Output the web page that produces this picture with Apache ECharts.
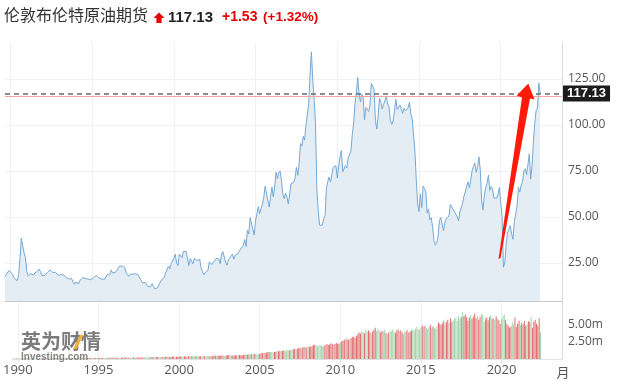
<!DOCTYPE html>
<html><head><meta charset="utf-8">
<script src="https://cdn.jsdelivr.net/npm/echarts@6/dist/echarts.min.js"></script>
<style>html,body{margin:0;padding:0;background:#fff}#c{width:618px;height:385px}</style>
</head><body><div id="c"></div>
<script>
// ---- data (monthly, Sep 1989 .. Jun 2022) ----
const startYear = 1989, startMonth = 9;
const padMonths = 16; // empty months to the right of the last point
const prices = [
 17.6,18.9,19.2,21.0,
 20.2,19.3,18.2,16.6,16.2,15.4,18.6,27.3,38.6,34.3,30.5,27.9,
 20.5,18.0,19.0,19.3,19.0,18.4,19.6,19.8,20.6,21.7,20.4,18.2,
 18.5,18.2,18.0,19.7,20.5,21.2,20.2,19.9,20.3,19.9,19.0,18.4,
 17.6,18.6,18.7,18.6,18.2,17.0,16.2,16.4,15.9,16.4,14.6,13.4,
 14.6,13.8,13.7,15.4,16.2,17.1,17.8,16.6,15.9,16.3,17.0,15.9,
 16.2,16.9,16.9,18.4,17.6,16.9,15.9,16.3,16.5,16.1,16.9,18.6,
 17.9,19.0,21.2,19.6,18.9,19.9,20.2,21.9,23.3,23.0,23.4,23.1,
 22.5,19.5,20.0,17.8,19.0,18.2,19.0,19.2,19.1,20.0,18.4,16.9,
 15.5,14.1,13.7,14.4,14.4,12.1,12.0,12.2,13.8,12.3,10.9,10.0,
 11.5,10.5,14.6,16.0,15.4,17.1,19.8,20.5,23.3,21.8,24.6,25.6,
 27.6,29.8,24.9,23.6,29.8,30.7,27.9,31.3,30.6,31.2,30.5,23.6,
 27.5,27.0,24.6,27.4,28.0,26.4,25.9,27.0,22.3,20.4,18.7,19.8,
 19.4,21.0,25.6,25.7,24.2,25.3,25.4,27.5,28.4,27.2,24.6,29.9,
 31.2,31.6,25.4,23.8,26.7,27.6,28.6,29.9,27.1,29.2,29.6,30.1,
 30.9,32.6,32.0,34.5,37.8,34.0,42.9,40.7,49.6,48.6,43.5,40.2,
 48.2,51.8,55.7,51.9,51.9,57.0,60.6,66.7,62.9,59.2,55.4,61.0,
 66.3,61.0,66.3,74.4,70.9,73.9,75.0,70.0,62.5,60.0,62.9,61.0,
 57.1,62.0,68.1,67.4,68.8,71.4,77.0,72.7,79.2,90.0,88.6,93.9,
 91.8,100.1,100.3,111.4,127.8,139.8,124.1,114.1,100.6,65.3,53.5,45.6,
 45.9,45.6,49.2,50.6,65.4,69.3,71.7,69.0,69.1,77.0,77.8,77.9,
 71.2,77.6,82.7,86.2,74.6,75.0,78.0,76.7,82.3,83.2,85.9,94.8,
 101.0,111.8,117.4,125.9,116.7,112.5,116.7,114.9,102.8,109.6,110.5,107.4,
 110.9,122.7,122.9,119.5,102.4,97.8,104.9,114.6,112.4,108.7,111.2,111.1,
 115.6,111.4,110.0,102.4,100.4,102.2,107.7,114.0,108.4,108.8,110.9,110.8,
 106.4,109.1,107.8,108.1,109.4,112.4,106.0,103.2,94.7,85.9,70.2,57.3,
 53.0,62.6,55.1,66.8,65.6,63.6,52.2,54.2,48.4,49.6,44.6,37.3,
 34.7,36.0,39.6,48.1,49.7,49.7,42.5,47.0,49.1,48.3,50.5,56.8,
 55.7,55.6,52.8,51.7,50.3,47.9,52.7,52.4,57.5,61.4,63.6,66.9,
 69.1,65.8,70.3,75.2,77.6,79.4,74.3,77.4,82.7,75.5,58.7,53.8,
 61.9,66.0,68.4,72.8,64.5,66.6,65.2,60.4,60.8,60.2,62.4,66.0,
 58.2,50.5,22.7,25.3,35.3,41.2,43.3,45.3,40.9,37.9,47.6,51.8,
 55.9,66.1,63.5,67.3,69.3,75.1,76.3,73.0,78.5,84.4,70.6,77.8,
 91.2,101.0,107.9,109.3,122.8,117.13
];
// monthly volume, millions of contracts
const volumes = [
 0.05,0.05,0.06,0.06,
 0.07,0.06,0.06,0.07,0.06,0.07,0.08,0.12,0.14,0.12,0.10,0.08,
 0.08,0.09,0.08,0.08,0.08,0.09,0.09,0.09,0.10,0.10,0.09,0.09,
 0.09,0.09,0.10,0.10,0.10,0.10,0.10,0.10,0.11,0.10,0.10,0.10,
 0.10,0.11,0.11,0.11,0.11,0.12,0.12,0.12,0.12,0.12,0.13,0.13,
 0.13,0.13,0.13,0.14,0.14,0.14,0.14,0.14,0.14,0.14,0.15,0.15,
 0.15,0.15,0.15,0.16,0.16,0.16,0.16,0.17,0.17,0.17,0.18,0.18,
 0.18,0.19,0.20,0.20,0.19,0.20,0.20,0.21,0.22,0.22,0.21,0.21,
 0.22,0.22,0.22,0.23,0.22,0.23,0.23,0.24,0.24,0.25,0.24,0.25,
 0.26,0.27,0.28,0.27,0.27,0.28,0.28,0.29,0.30,0.30,0.30,0.31,
 0.31,0.32,0.34,0.33,0.33,0.34,0.34,0.35,0.36,0.35,0.35,0.34,
 0.36,0.38,0.40,0.37,0.38,0.39,0.37,0.40,0.41,0.40,0.38,0.39,
 0.40,0.39,0.41,0.40,0.42,0.41,0.40,0.42,0.45,0.43,0.42,0.41,
 0.43,0.45,0.50,0.47,0.46,0.48,0.47,0.50,0.52,0.49,0.48,0.52,
 0.55,0.58,0.56,0.50,0.52,0.51,0.53,0.55,0.56,0.58,0.55,0.57,
 0.60,0.62,0.65,0.63,0.70,0.66,0.68,0.72,0.75,0.78,0.72,0.70,
 0.78,0.85,0.90,0.92,0.88,0.95,0.98,1.05,1.00,1.02,0.98,1.05,
 1.10,1.12,1.15,1.20,1.18,1.22,1.25,1.20,1.28,1.30,1.26,1.32,
 1.40,1.45,1.50,1.48,1.55,1.60,1.65,1.58,1.70,1.80,1.75,1.68,
 1.78,1.85,1.80,1.90,2.05,2.10,2.00,1.85,1.95,2.05,1.90,1.95,
 2.00,2.10,2.20,2.05,2.15,2.30,2.25,2.10,2.20,2.35,2.25,2.30,
 2.45,2.60,2.70,2.85,3.05,2.90,2.80,2.95,3.10,3.20,3.30,3.15,
 3.40,3.65,3.90,3.75,4.10,3.95,3.80,4.40,4.05,4.20,3.90,3.70,
 4.00,4.30,4.60,4.10,4.45,4.20,3.95,4.15,4.05,4.30,3.85,3.60,
 3.90,4.20,4.05,4.40,4.10,3.85,4.20,4.35,4.10,4.25,3.95,3.70,
 3.95,4.10,4.30,3.90,4.05,4.20,4.40,4.15,4.50,4.70,4.40,4.30,
 4.60,4.95,4.70,4.85,4.60,4.40,4.70,5.00,4.55,4.80,4.65,4.45,
 4.90,5.40,5.20,5.00,5.25,5.60,5.10,5.45,5.80,5.30,6.00,5.50,
 5.70,5.95,6.10,5.60,6.35,5.90,6.20,6.90,6.30,6.55,6.15,5.60,
 6.10,6.40,5.95,6.25,6.70,6.00,6.35,5.80,6.20,6.65,6.50,5.50,
 5.85,6.10,5.70,6.20,6.45,5.90,6.05,5.75,6.30,5.95,5.70,5.20,
 5.90,6.30,6.60,5.80,5.20,4.90,4.60,4.80,5.40,5.10,6.10,4.70,
 5.20,5.60,5.00,5.35,5.10,5.60,4.95,5.20,5.55,5.40,6.20,4.60,
 5.50,5.80,5.20,4.90,6.00,3.90
];
const title = '伦敦布伦特原油期货';
const lastPrice = 117.13;
const prevClose = 115.60;
const changeText = '+1.53';
const changePctText = '(+1.32%)';
const volumeLabels = [2.5, 5];     // shown volume tick labels (millions)
const xLabelEvery = 5;             // years between x labels

// ---- categories ----
const categories = [];
for (let i = 0; i < prices.length + padMonths; i++) {
  const m = startMonth - 1 + i;
  const y = startYear + Math.floor(m / 12);
  categories.push(y + '-' + String(m % 12 + 1).padStart(2, '0'));
}
const isMajor = (idx, val) => {
  const v = val != null ? val : categories[idx];
  return v.endsWith('-01') && (+v.slice(0, 4)) % xLabelEvery === 0;
};
const volData = volumes.map((v, i) => ({
  value: v,
  itemStyle: { color: (i > 0 && prices[i] < prices[i - 1]) ? '#9fd5ac' : '#e06c6c' }
}));

const chart = echarts.init(document.getElementById('c'), null, { renderer: 'canvas' });
const axisCol = '#d6dbe2';
chart.setOption({
  animation: false,
  grid: [
    { left: 5, right: 56, top: 43, bottom: 84 },
    { left: 5, right: 56, top: 302, bottom: 26 }
  ],
  xAxis: [
    { type: 'category', gridIndex: 0, data: categories, boundaryGap: false,
      axisLine: { show: true, lineStyle: { color: '#c8c8c8' } },
      axisTick: { show: false }, axisLabel: { show: false },
      splitLine: { show: true, interval: isMajor, lineStyle: { color: '#f0f0f0' } } },
    { type: 'category', gridIndex: 1, data: categories, boundaryGap: false,
      axisLine: { show: true, lineStyle: { color: '#e2e2e2' } },
      axisTick: { show: true, interval: isMajor, length: 4, lineStyle: { color: '#e2e2e2' } },
      axisLabel: { show: true, interval: isMajor, formatter: v => v.slice(0, 4), color: '#555',
        fontSize: 13, fontFamily: 'Open Sans', margin: 5 },
      splitLine: { show: true, interval: isMajor, lineStyle: { color: '#f0f0f0' } } }
  ],
  yAxis: [
    { type: 'value', gridIndex: 0, position: 'right', min: 4.35, max: 144.6,
      minInterval: 25, maxInterval: 25,
      axisLine: { show: true, lineStyle: { color: axisCol } }, axisTick: { show: false },
      axisLabel: { showMinLabel: false, showMaxLabel: false, formatter: v => v.toFixed(2),
        color: '#555', fontSize: 12, fontFamily: 'Open Sans', margin: 6 },
      splitLine: { show: true, showMinLine: false, showMaxLine: false, lineStyle: { color: '#f1f1f1' } } },
    { type: 'value', gridIndex: 1, position: 'right', min: 0, max: 8.4, interval: 2.5,
      axisLine: { show: true, lineStyle: { color: axisCol } }, axisTick: { show: false },
      axisLabel: { formatter: v => volumeLabels.includes(v) ? v.toFixed(2) + 'm' : '',
        color: '#555', fontSize: 12, fontFamily: 'Open Sans', margin: 6 },
      splitLine: { show: false } }
  ],
  series: [
    { type: 'line', xAxisIndex: 0, yAxisIndex: 0, data: prices, symbol: 'none',
      lineStyle: { color: '#74a8d6', width: 1 }, areaStyle: { color: '#e4edf3', opacity: 1 },
      markLine: { symbol: 'none', silent: true, animation: false,
        data: [
          { yAxis: prevClose, lineStyle: { type: 'solid', color: '#f4a5a5', width: 1 }, label: { show: false } },
          { yAxis: lastPrice, lineStyle: { type: [5, 4], color: '#6a6a6a', width: 1.5 },
            label: { show: true, position: 'end', distance: 1, formatter: lastPrice.toFixed(2),
              backgroundColor: '#1c1c1c', color: '#fff', fontWeight: 'bold', fontSize: 13,
              fontFamily: 'Liberation Sans', padding: [2, 4, 1, 4] } }
        ] } },
    { type: 'bar', xAxisIndex: 1, yAxisIndex: 1, data: volData, barWidth: 1 }
  ],
  graphic: [
    { type: 'text', x: 4, y: 15, style: { text: title, fill: '#333', font: '16px "Noto Sans CJK SC"', verticalAlign: 'middle' } },
    { type: 'polygon', shape: { points: [[159, 12.5], [164.5, 18], [161.6, 18], [161.6, 23], [156.4, 23], [156.4, 18], [153.5, 18]] }, style: { fill: '#e60000' } },
    { type: 'text', x: 168, y: 17.5, style: { text: lastPrice.toFixed(2), fill: '#222', font: 'bold 15px "Liberation Sans"', verticalAlign: 'middle' } },
    { type: 'text', x: 222, y: 17.5, style: { text: changeText, fill: '#e60000', font: 'bold 14px "Liberation Sans"', verticalAlign: 'middle' } },
    { type: 'text', x: 263, y: 17.5, style: { text: changePctText, fill: '#e60000', font: 'bold 13.5px "Liberation Sans"', verticalAlign: 'middle' } },
    // watermark
    { type: 'text', x: 21, y: 341, z: 100, style: { text: '英为财情', fill: '#6e6e6e', opacity: 0.9, font: 'bold 20px "Noto Sans CJK SC"', verticalAlign: 'middle' } },
    { type: 'polygon', z: 101, shape: { points: [[73, 349], [80, 335], [83.5, 335], [76.5, 349]] }, style: { fill: '#f2b233' } },
    { type: 'text', x: 21, y: 357.5, z: 100, style: { text: 'Investing.com', fill: '#777', opacity: 0.9, font: 'bold 10px "Liberation Sans"', verticalAlign: 'middle' } },
    { type: 'text', x: 563, y: 372, style: { text: '月', fill: '#555', font: '13px "Noto Sans CJK SC"', verticalAlign: 'middle', align: 'center' } },
    // hand-drawn red annotation arrow
    { type: 'polygon', z: 110, shape: { points: [[498.5, 259], [522, 97.5], [516.7, 95.5], [528.3, 83.5], [534.5, 99.5], [530, 98.5], [500.5, 258]] }, style: { fill: '#ff1a0a' } }
  ]
});
</script></body></html>
